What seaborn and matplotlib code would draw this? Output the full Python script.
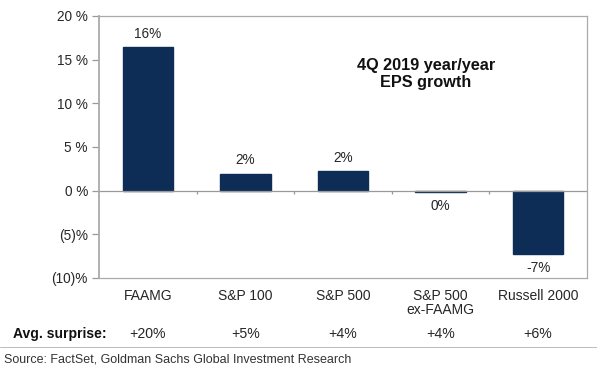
import matplotlib
matplotlib.use("Agg")
import matplotlib.pyplot as plt
import matplotlib.transforms as mtransforms
import seaborn as sns
import pandas as pd

categories = ["FAAMG", "S&P 100", "S&P 500", "S&P 500\nex-FAAMG", "Russell 2000"]
eps_growth = [16.4, 1.95, 2.2, -0.1, -7.2]
value_labels = ["16%", "2%", "2%", "0%", "-7%"]
avg_surprise = ["+20%", "+5%", "+4%", "+4%", "+6%"]
yticks = [20, 15, 10, 5, 0, -5, -10]
ytick_labels = ["20 %", "15 %", "10 %", "5 %", "0 %", "(5)%", "(10)%"]

sns.set_theme(style="white")
plt.rcParams["font.family"] = ["Liberation Sans", "DejaVu Sans"]

df = pd.DataFrame({"cat": categories, "val": eps_growth})

fig = plt.figure(figsize=(5.97, 3.68), dpi=100)
ax = fig.add_axes([0.166, 0.2446, 0.817, 0.712])

bar_color = "#0d2c56"
sns.barplot(data=df, x="cat", y="val", color=bar_color, width=0.52,
            saturation=1, ax=ax, edgecolor=bar_color)

txt = "#262626"
ax.set_ylim(-10, 20)
ax.set_xlim(-0.5, len(categories) - 0.5)
ax.set_yticks(yticks)
ax.set_yticklabels(ytick_labels, fontsize=9.8, color=txt)
ax.set_xticks(range(len(categories)))
ax.set_xticklabels(categories, fontsize=10, color=txt, linespacing=1.0)
ax.tick_params(axis="x", length=0, pad=8)
ax.tick_params(axis="y", length=5, width=0.9, color="#999999", pad=3, left=True, direction="out")
ax.set_xlabel("")
ax.set_ylabel("")

for s in ax.spines.values():
    s.set_color("#aaaaaa")
    s.set_linewidth(0.9)
ax.spines["left"].set_linewidth(1.3)

ax.axhline(0, color="#999999", lw=0.9, zorder=1)
for b in [i + 0.5 for i in range(len(categories) - 1)]:
    ax.vlines(b, -0.4, 0, color="#999999", lw=0.9)

for i, (v, lab) in enumerate(zip(eps_growth, value_labels)):
    off = 9.5 if v >= 0 else -10.5
    ax.annotate(lab, (i, v), xytext=(0, off), textcoords="offset points",
                ha="center", va="center", fontsize=9.8, color=txt)

ax.text(0.67, 0.78, "4Q 2019 year/year\nEPS growth", transform=ax.transAxes,
        ha="center", va="center", fontsize=11.7, fontweight="bold", color="#111111",
        linespacing=1.15)

trans = mtransforms.blended_transform_factory(ax.transData, fig.transFigure)
y_row = 1 - 334 / 368
fig.text(13 / 597, y_row, "Avg. surprise:", fontsize=10, fontweight="bold",
         va="center", ha="left", color="#111111")
for i, s in enumerate(avg_surprise):
    ax.text(i, y_row, s, transform=trans, ha="center", va="center",
            fontsize=10.2, color=txt)

fig.text(4 / 597, 1 - 360 / 368, "Source: FactSet, Goldman Sachs Global Investment Research",
         fontsize=9, va="center", ha="left", color="#333333")
fig.add_artist(plt.Line2D([0, 1], [1 - 347 / 368] * 2, color="#bbbbbb", lw=0.7))

fig.savefig("out.png", dpi=100)
